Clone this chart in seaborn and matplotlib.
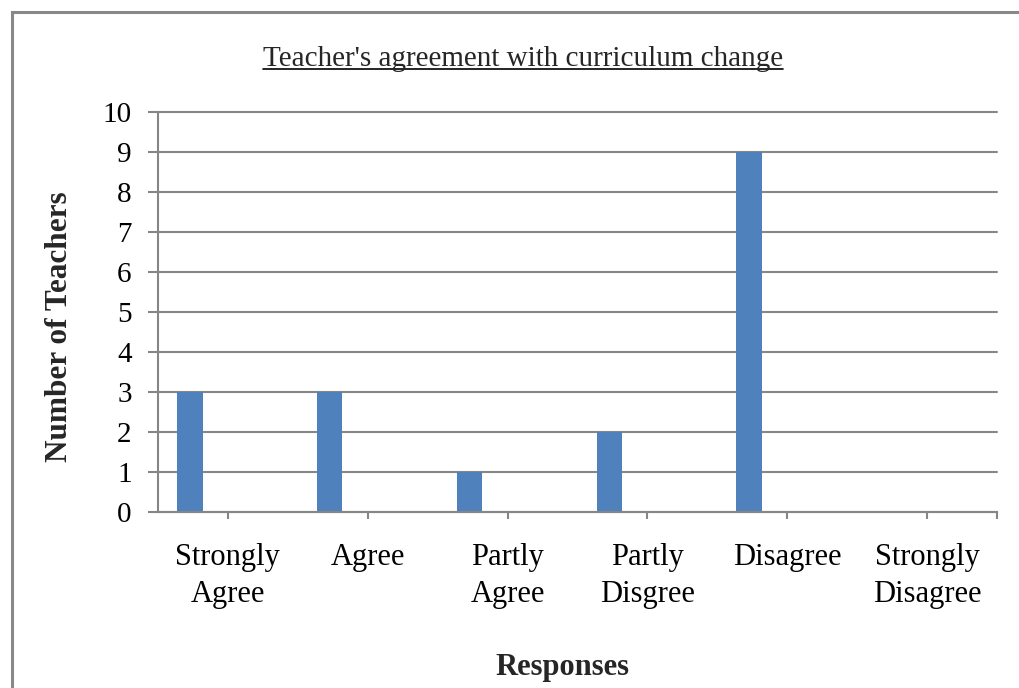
import numpy as np
import pandas as pd
import seaborn as sns
import matplotlib.pyplot as plt
from matplotlib.patches import Rectangle
from matplotlib.lines import Line2D

# data
responses = ["Strongly\nAgree", "Agree", "Partly\nAgree", "Partly\nDisgree",
             "Disagree", "Strongly\nDisagree"]
teachers = [3, 3, 1, 2, 9, 0]
# the original sheet had three more (empty) series next to the teacher counts
series = ["Series1", "Series2", "Series3", "Series4"]
empty = [0, 0, 0, 0, 0, 0]
yticks = list(range(0, 11))

title = "Teacher's agreement with curriculum change"
xlabel = "Responses"
ylabel = "Number of Teachers"

grid_c = "#868686"
bar_c = "#4F81BD"

df = pd.concat([
    pd.DataFrame({"response": responses, "count": teachers, "series": series[0]}),
    *[pd.DataFrame({"response": responses, "count": empty, "series": s}) for s in series[1:]],
])

sns.set_theme(style="white")
plt.rcParams["font.family"] = ["Liberation Serif", "DejaVu Serif"]

W, H = 1020, 688
fig = plt.figure(figsize=(W / 100, H / 100), dpi=100)
ax = fig.add_axes([158 / W, 1 - 512 / H, 839 / W, 400 / H])

sns.barplot(data=df, x="response", y="count", hue="series", hue_order=series,
            order=responses, palette=[bar_c] * 4, width=0.727, linewidth=0,
            saturation=1, legend=False, ax=ax)

ax.set_xlim(-0.5, 5.5)
ax.set_ylim(0, 10)
ax.set_yticks(yticks)
ax.set_xticks(range(len(responses)))
ax.set_xticklabels(responses, fontsize=22, linespacing=1.4)
ax.set_xticks([5.5], minor=True)
ax.yaxis.grid(True, color=grid_c, lw=1.5)
for g in ax.yaxis.get_gridlines():
    g.set_clip_on(False)
ax.set_axisbelow(True)
for s in ["top", "right"]:
    ax.spines[s].set_visible(False)
for s in ["left", "bottom"]:
    ax.spines[s].set_color(grid_c)
    ax.spines[s].set_linewidth(1.5)
ax.tick_params(axis="y", which="major", left=True, length=7, width=1.5,
               color=grid_c, pad=12, labelsize=21, labelcolor="black")
ax.tick_params(axis="x", which="both", bottom=True, length=5, width=1.5,
               color=grid_c, pad=17, labelcolor="black")
ax.set_xlabel("")
ax.set_ylabel("")

# labels placed like the spreadsheet chart
t = fig.text(523 / W, 1 - 59 / H, title, ha="center", va="center", fontsize=21)
fig.text(562 / W, 1 - 668 / H, xlabel, ha="center", va="center",
         fontsize=22, fontweight="bold")
fig.text(60 / W, 1 - 327 / H, ylabel, ha="center", va="center",
         rotation=90, fontsize=22.5, fontweight="bold")

# underline the title
fig.canvas.draw()
bb = t.get_window_extent(fig.canvas.get_renderer())
uy = (bb.y0 + 3) / H
fig.add_artist(Line2D([bb.x0 / W, bb.x1 / W], [uy, uy], color="black", lw=1.2))

# outer frame (only left and top edges fall inside the picture)
fig.add_artist(Rectangle((12 / W, -0.1), 1.2, 1 - 12 / H + 0.1,
                         transform=fig.transFigure, fill=False,
                         edgecolor="#888888", lw=2.2))

fig.savefig("out.png", dpi=100)
